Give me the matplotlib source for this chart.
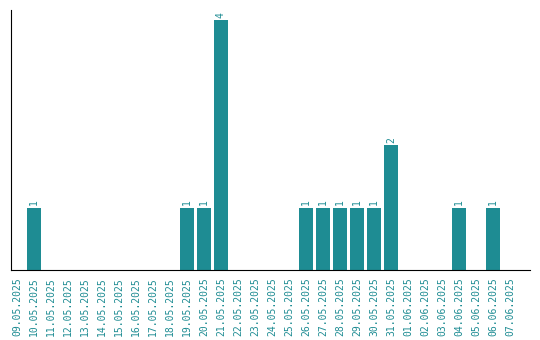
import matplotlib
matplotlib.use("Agg")
import matplotlib.pyplot as plt

dates = ["09.05.2025", "10.05.2025", "11.05.2025", "12.05.2025", "13.05.2025",
         "14.05.2025", "15.05.2025", "16.05.2025", "17.05.2025", "18.05.2025",
         "19.05.2025", "20.05.2025", "21.05.2025", "22.05.2025", "23.05.2025",
         "24.05.2025", "25.05.2025", "26.05.2025", "27.05.2025", "28.05.2025",
         "29.05.2025", "30.05.2025", "31.05.2025", "01.06.2025", "02.06.2025",
         "03.06.2025", "04.06.2025", "05.06.2025", "06.06.2025", "07.06.2025"]
counts = [0, 1, 0, 0, 0, 0, 0, 0, 0, 0,
          1, 1, 4, 0, 0, 0, 0, 1, 1, 1,
          1, 1, 2, 0, 0, 0, 1, 0, 1, 0]

teal = "#1e8c93"
plt.rcParams['font.family'] = ['DejaVu Sans Mono']

fig = plt.figure(figsize=(5.4, 3.4), dpi=100)
ax = fig.add_axes([11/540, 70/340, 519/540, 260/340])

x = list(range(len(dates)))
ax.bar(x, counts, width=0.82, color=teal)
for i, v in enumerate(counts):
    if v > 0:
        ax.text(i, v + 0.04, str(v), rotation=90, ha='center', va='bottom',
                fontsize=7, color=teal)

ax.set_xlim(-0.35, 30.18)
ax.set_ylim(0, 4.16)
ax.set_xticks(x)
ax.set_xticklabels(dates, rotation=90, fontsize=7, color=teal)
ax.tick_params(axis='x', length=0, pad=5)
ax.set_yticks([])
ax.spines['top'].set_visible(False)
ax.spines['right'].set_visible(False)

fig.savefig("out.png", dpi=100)
